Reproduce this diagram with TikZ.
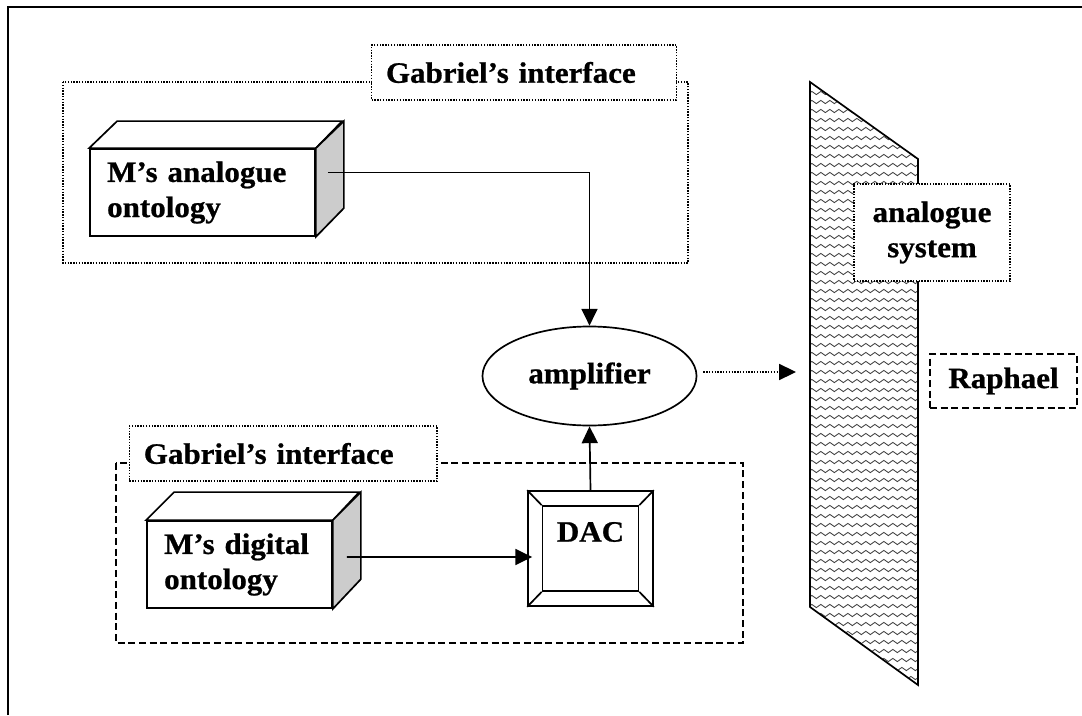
\documentclass[tikz,border=0pt]{standalone}
\usepackage{fontspec}
\setmainfont[FakeStretch=1.05, BoldFeatures={FakeBold=0.8}]{Liberation Serif}
\usepackage{tikz}
\usetikzlibrary{calc,positioning,arrows,arrows.meta,shapes,decorations.pathmorphing}

\begin{document}
\begin{tikzpicture}[x=0.025cm, y=-0.025cm, line width=1.2pt]
\tikzstyle{every node}=[font=\fontsize{21}{25}\selectfont\bfseries]
\tikzstyle{dotln}=[line width=1pt, dash pattern=on 1pt off 1pt]
\tikzstyle{dashln}=[dash pattern=on 5pt off 2.6pt]
\tikzstyle{lbl}=[draw, dotln, fill=white, align=left, inner xsep=0.36cm,
                 minimum height=1.375cm]
\tikzstyle{face}=[draw, fill=white, align=left, inner xsep=0.43cm,
                  minimum height=2.175cm]
\tikzstyle{arr}=[-{Triangle[length=0.42cm,width=0.4cm]}]
\tikzstyle{wavy}=[decorate, decoration={snake, amplitude=0.04cm,
                  segment length=0.225cm}, draw=black!75, line width=0.6pt]
\useasboundingbox (0,0) rectangle (1082,715);
% frame
\draw[line width=1.6pt] (8,715) -- (8,7) -- (1082,7);

% upper interface
\draw[dotln] (63,82) rectangle (688,263);
\node[lbl, text width=6.9cm] (gab1) at (524,72.5) {Gabriel's interface};
\node[face, text width=4.765cm] (ana) at (202.5,192.5) {M's analogue\\ontology};
\draw[fill=white] (ana.north west) -- ++(28,-27) -- ++(225,0) -- (ana.north east) -- cycle;
\draw[fill=black!20] (ana.north east) -- ++(28,-27) -- ++(0,87) -- (ana.south east) -- cycle;

% lower interface
\draw[dashln] (116,463) rectangle (743,643);
\node[lbl, text width=6.97cm] (gab2) at (283.25,453.5) {Gabriel's interface};
\node[face, text width=3.765cm] (dig) at (239.5,564.5) {M's digital\\ontology};
\draw[fill=white] (dig.north west) -- ++(28,-28) -- ++(185,0) -- (dig.north east) -- cycle;
\draw[fill=black!20] (dig.north east) -- ++(28,-28) -- ++(0,87) -- (dig.south east) -- cycle;

% DAC
\node[draw, inner sep=0, minimum width=3.125cm, minimum height=2.875cm] (dac) at (590.5,548.5) {};
\node[draw, inner sep=0, minimum width=2.4cm, minimum height=2.125cm] (dacin) at (dac) {};
\foreach \c in {north west, north east, south east, south west}
  \draw (dac.\c) -- (dacin.\c);
\node (daclbl) at (590.5,532) {DAC};

\node[ellipse, draw, inner sep=0, minimum width=5.35cm, minimum height=2.475cm] (amp) at (589.5,376) {amplifier};

% analogue system
\coordinate (p1) at (810,82);
\coordinate (p2) at (918,159);
\coordinate (p3) at (918,685);
\coordinate (p4) at (810,607);
\begin{scope}
\clip (p1) -- (p2) -- (p3) -- (p4) -- cycle;
\foreach \yy in {84,93,...,687}
  \draw[wavy] (800,\yy) -- (930,\yy);
\end{scope}
\draw (p1) -- (p2) -- (p3) -- (p4) -- cycle;
\node[draw, dotln, fill=white, align=center, minimum width=3.9cm, minimum height=2.425cm] (asys) at (932,232.5) {analogue\\system};
\node[draw, dashln, minimum width=3.675cm, minimum height=1.35cm] (raph) at (1003.5,381) {Raphael};

% connectors
\coordinate (anaout) at ($(ana.east)+(12,-20)$);
\coordinate (digout) at ($(dig.east)+(14,-7.5)$);
\coordinate (dacto) at ($(dac.west)+(5,8.5)$);
\coordinate (hit) at (796,372);
\draw[arr] (anaout) -| (amp.north);
\draw[arr] (digout) -- (dacto);
\draw[arr] (dac.north) -- (amp.south);
\draw[dotln, arr] ($(amp.east)+(6,-4)$) -- (hit);
\end{tikzpicture}
\end{document}
